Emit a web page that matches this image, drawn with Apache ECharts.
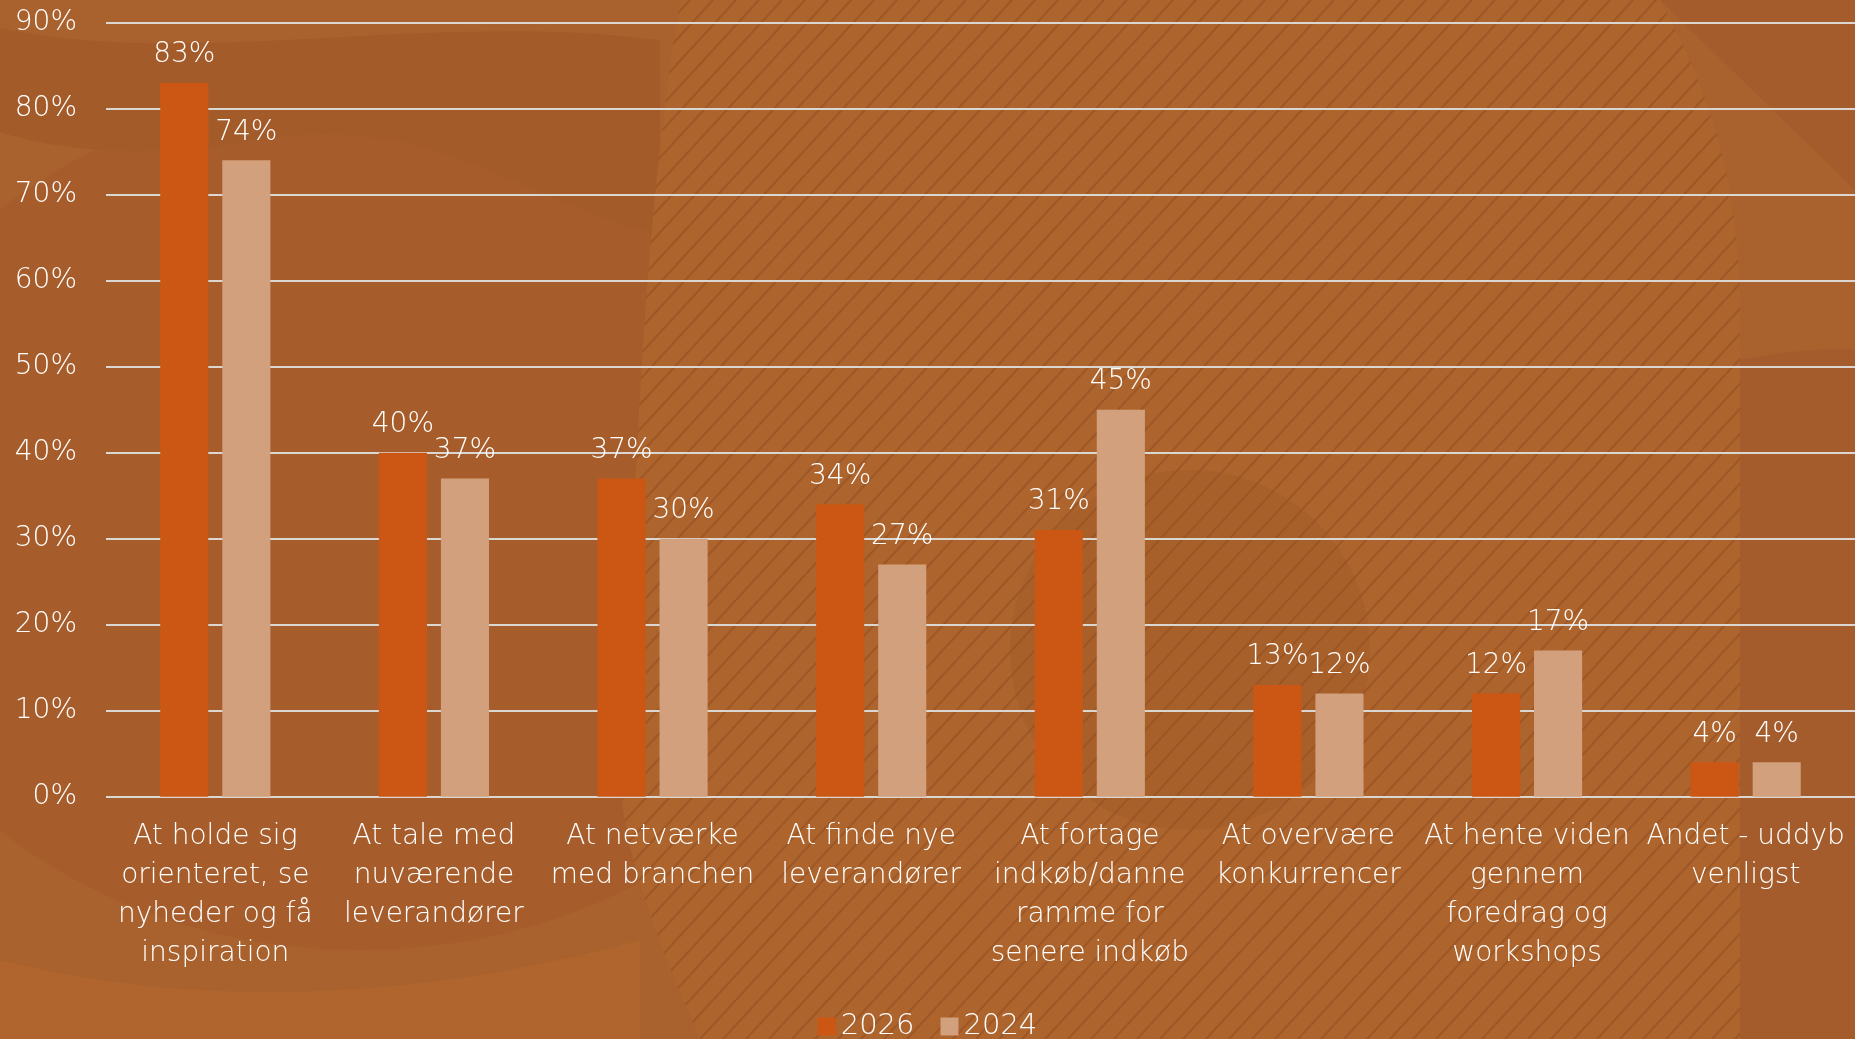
<!DOCTYPE html>
<html>
<head>
<meta charset="utf-8">
<script src="https://cdn.jsdelivr.net/npm/echarts@6/dist/echarts.min.js"></script>
<style>
  html, body { margin: 0; padding: 0; background: #A8612E; }
  #chart { width: 1855px; height: 1039px; }
</style>
</head>
<body>
<div id="chart"></div>
<script>
const categories = [
  "At holde sig\norienteret, se\nnyheder og få\ninspiration",
  "At tale med\nnuværende\nleverandører",
  "At netværke\nmed branchen",
  "At finde nye\nleverandører",
  "At fortage\nindkøb/danne\nramme for\nsenere indkøb",
  "At overvære\nkonkurrencer",
  "At hente viden\ngennem\nforedrag og\nworkshops",
  "Andet - uddyb\nvenligst"
];
const seriesNames = ["2026", "2024"];
const values2026 = [83, 40, 37, 34, 31, 13, 12, 4];
const values2024 = [74, 37, 30, 27, 45, 12, 17, 4];
const yTicks = [0, 10, 20, 30, 40, 50, 60, 70, 80, 90];

const FONT = "'DejaVu Sans', 'Open Sans', sans-serif";
const FW = 200;
const TXT = '#FFFFFF';

// --- decorative background helpers ---
function shapePoints(start, segs) {
  const pts = [start.slice()];
  let cur = start.slice();
  segs.forEach(s => {
    if (s[0] === 'L') { cur = [s[1], s[2]]; pts.push(cur.slice()); }
    else {
      const [, x1, y1, x2, y2, x, y] = s;
      for (let i = 1; i <= 24; i++) {
        const t = i / 24, u = 1 - t;
        pts.push([
          u*u*u*cur[0] + 3*u*u*t*x1 + 3*u*t*t*x2 + t*t*t*x,
          u*u*u*cur[1] + 3*u*u*t*y1 + 3*u*t*t*y2 + t*t*t*y
        ]);
      }
      cur = [x, y];
    }
  });
  return pts;
}
function makeTile() {
  const w = 23, h = 25;
  const c = document.createElement('canvas');
  c.width = w; c.height = h;
  const g = c.getContext('2d');
  g.fillStyle = '#AE642D';
  g.fillRect(0, 0, w, h);
  g.strokeStyle = 'rgba(125,62,25,0.32)';
  g.lineWidth = 2.2;
  for (let k = -1; k <= 1; k++) {
    g.beginPath();
    g.moveTo(k * w, h);
    g.lineTo(k * w + w, 0);
    g.stroke();
  }
  return c;
}
const tile = makeTile();
function poly(points, fill, z) {
  return { type: 'polygon', z: z, silent: true, shape: { points: points }, style: { fill: fill } };
}

const bgElements = [
  { type: 'rect', z: -100, silent: true, shape: { x: 0, y: 0, width: 1855, height: 1039 }, style: { fill: '#A9612D' } },
  { type: 'ellipse', z: -99, silent: true, shape: { cx: 360, cy: 520, rx: 520, ry: 430 }, style: { fill: '#A65D2B' } },
  poly(shapePoints([0, 960], [['C', 200, 1010, 420, 1000, 640, 940], ['L', 640, 1039], ['L', 0, 1039]]), '#AF652D', -98),
  poly(shapePoints([0, 28], [['C', 200, 70, 420, 10, 660, 40], ['L', 660, 235], ['C', 520, 200, 430, 110, 260, 140], ['C', 150, 158, 60, 152, 0, 132]]), '#A45B2A', -98),
  poly(shapePoints([680, 0], [['L', 1660, 0], ['C', 1720, 110, 1740, 200, 1740, 320], ['L', 1740, 1039], ['L', 700, 1039], ['C', 640, 900, 600, 800, 625, 650], ['C', 640, 450, 640, 250, 680, 0]]), { type: 'pattern', image: tile, repeat: 'repeat' }, -97),
  { type: 'circle', z: -96, silent: true, shape: { cx: 1190, cy: 650, r: 180 }, style: { fill: 'rgba(150,80,35,0.22)' } },
  poly([[1660, 0], [1855, 0], [1855, 190]], '#A45C2C', -96),
  poly(shapePoints([1740, 360], [['C', 1790, 350, 1830, 348, 1855, 350], ['L', 1855, 1039], ['L', 1740, 1039]]), '#A45C2C', -96)
];

const chart = echarts.init(document.getElementById('chart'));
const labelStyle = { show: true, position: 'top', distance: 14, color: TXT, fontFamily: FONT, fontWeight: FW, fontSize: 28, formatter: p => p.value + '%' };
const option = {
  backgroundColor: '#A9612D',
  animation: false,
  graphic: bgElements,
  grid: { left: 106, right: 0, top: 22.7, bottom: 242.3, containLabel: false },
  legend: {
    data: seriesNames,
    left: 'center',
    top: 1012,
    itemWidth: 18,
    itemHeight: 18,
    itemGap: 26,
    icon: 'rect',
    padding: 0,
    textStyle: { color: TXT, fontFamily: FONT, fontWeight: FW, fontSize: 29 }
  },
  xAxis: {
    type: 'category',
    data: categories,
    axisLine: { show: false },
    axisTick: { show: false },
    axisLabel: {
      interval: 0,
      color: TXT,
      fontFamily: FONT,
      fontWeight: FW,
      fontSize: 28,
      lineHeight: 39,
      margin: 21,
      align: 'center'
    }
  },
  yAxis: {
    type: 'value',
    min: yTicks[0],
    max: yTicks[yTicks.length - 1],
    interval: 10,
    axisLine: { show: false },
    axisTick: { show: false },
    splitLine: { lineStyle: { color: '#DAD6D2', width: 2 } },
    axisLabel: {
      color: TXT,
      fontFamily: FONT,
      fontWeight: FW,
      fontSize: 28,
      margin: 29,
      formatter: v => v + '%'
    }
  },
  series: [
    { name: seriesNames[0], type: 'bar', data: values2026, barWidth: '22%', barGap: '29%', itemStyle: { color: '#CC5714' }, label: labelStyle },
    { name: seriesNames[1], type: 'bar', data: values2024, barWidth: '22%', barGap: '29%', itemStyle: { color: '#D3A07D' }, label: labelStyle }
  ]
};
chart.setOption(option);
</script>
</body>
</html>
